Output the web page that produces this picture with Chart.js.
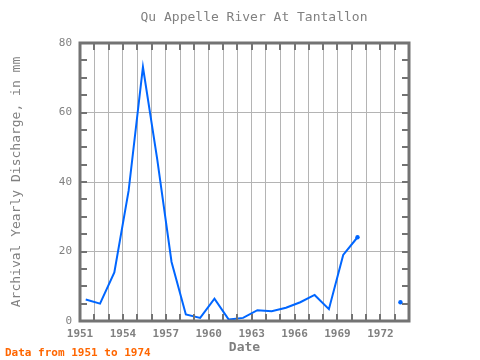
<!DOCTYPE html>
<html>
<head>
<meta charset="utf-8">
<script src="https://cdn.jsdelivr.net/npm/chart.js@4"></script>
<style>
  body { margin: 0; background: #fff; }
  #wrap { width: 480px; height: 360px; }
</style>
</head>
<body>
<div id="wrap"><canvas id="chart" width="480" height="360"></canvas></div>
<script>
// yearly discharge, mm (1971 and 1972 missing)
const years = [1951, 1952, 1953, 1954, 1955, 1956, 1957, 1958, 1959, 1960, 1961, 1962,
               1963, 1964, 1965, 1966, 1967, 1968, 1969, 1970, 1971, 1972, 1973]
const discharge = [6.2, 5.0, 14.0, 37.5, 73.1, 46.5, 17.0, 1.9, 0.9, 6.4, 0.4, 0.9,
                   3.1, 2.8, 3.8, 5.4, 7.5, 3.4, 19.0, 24.1, null, null, 5.4]
const xTickLabels = ['1951', '1954', '1957', '1960', '1963', '1966', '1969', '1972']
const yTickLabels = ['0', '20', '40', '60', '80']
const chartTitle = 'Qu Appelle River At Tantallon'
const footNote = 'Data from 1951 to 1974'

const monoFont = "'DejaVu Sans Mono', 'Liberation Mono', monospace"
const gray = '#808080'
const gridGray = '#b4b4b4'

// points sit a bit into each year on the date axis
const points = years.map((yr, i) => ({ x: yr + 0.4, y: discharge[i] }))

// a dot only where a run of the line ends
function endDot(ctx) {
    const i = ctx.dataIndex
    const next = discharge[i + 1]
    return (next === null || next === undefined) ? 2.2 : 0
}

const frameAndTicks = {
    id: 'frameAndTicks',
    afterDraw(chart) {
        const ctx = chart.ctx
        const a = chart.chartArea
        const xs = chart.scales.x
        const ys = chart.scales.y
        ctx.save()
        ctx.strokeStyle = '#737373'
        ctx.lineWidth = 3
        ctx.strokeRect(a.left, a.top, a.right - a.left, a.bottom - a.top)
        ctx.lineWidth = 2
        for (let yr = 1952; yr < 1974; yr++) {
            const px = Math.round(xs.getPixelForValue(yr))
            ctx.beginPath()
            ctx.moveTo(px, a.top); ctx.lineTo(px, a.top + 7)
            ctx.moveTo(px, a.bottom); ctx.lineTo(px, a.bottom - 7)
            ctx.stroke()
        }
        for (let v = 5; v < 80; v += 5) {
            const py = Math.round(ys.getPixelForValue(v))
            ctx.beginPath()
            ctx.moveTo(a.left, py); ctx.lineTo(a.left + 7, py)
            ctx.moveTo(a.right, py); ctx.lineTo(a.right - 7, py)
            ctx.stroke()
        }
        ctx.fillStyle = gray
        ctx.font = '13px ' + monoFont
        ctx.textAlign = 'center'
        ctx.textBaseline = 'middle'
        ctx.fillText(chartTitle, 254, 18)
        ctx.fillStyle = '#ff6600'
        ctx.font = 'bold 11px ' + monoFont
        ctx.textAlign = 'left'
        ctx.textBaseline = 'alphabetic'
        ctx.fillText(footNote, 5, 356)
        ctx.restore()
    }
}

const chart = new Chart(document.getElementById('chart').getContext('2d'), {
    type: 'line',
    data: {
        datasets: [{
            data: points,
            borderColor: '#0066ff',
            backgroundColor: '#0066ff',
            borderWidth: 2,
            pointRadius: endDot,
            pointBorderWidth: 0,
            pointHoverRadius: 0,
            spanGaps: false,
            tension: 0
        }]
    },
    options: {
        responsive: false,
        animation: false,
        events: [],
        layout: { padding: { top: 43, right: 71, bottom: 0, left: 0 } },
        plugins: {
            legend: { display: false },
            tooltip: { enabled: false },
            title: { display: false }
        },
        scales: {
            x: {
                type: 'linear',
                min: 1951,
                max: 1974,
                afterFit: (s) => { s.height = 39 },
                afterBuildTicks: (s) => {
                    s.ticks = []
                    for (let yr = 1951; yr <= 1974; yr++) s.ticks.push({ value: yr })
                },
                grid: { color: gridGray, lineWidth: 1, drawTicks: false },
                border: { display: false },
                ticks: {
                    padding: 7,
                    color: gray,
                    autoSkip: false,
                    maxRotation: 0,
                    font: { family: monoFont, size: 11, weight: 'bold' },
                    callback: (v) => xTickLabels.includes(String(v)) ? String(v) : ''
                },
                title: {
                    display: true,
                    text: 'Date',
                    color: gray,
                    font: { family: monoFont, size: 13, weight: 'bold' },
                    padding: { top: 0, bottom: 5 }
                }
            },
            y: {
                min: 0,
                max: 80,
                afterFit: (s) => { s.width = 80 },
                afterBuildTicks: (s) => {
                    s.ticks = yTickLabels.map(t => ({ value: Number(t) }))
                },
                grid: { color: gridGray, lineWidth: 1, drawTicks: false },
                border: { display: false },
                ticks: {
                    padding: 8,
                    color: gray,
                    font: { family: monoFont, size: 11 }
                },
                title: {
                    display: true,
                    text: 'Archival Yearly Discharge, in mm',
                    color: gray,
                    font: { family: monoFont, size: 13 },
                    padding: { top: 9, bottom: 0 }
                }
            }
        }
    },
    plugins: [frameAndTicks]
})
</script>
</body>
</html>
